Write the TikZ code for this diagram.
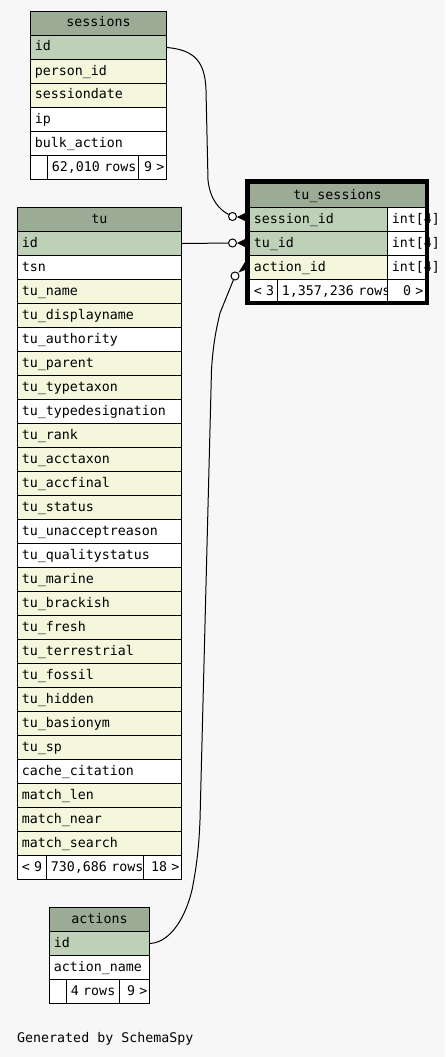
\documentclass[tikz,border=0pt]{standalone}
\usepackage{fontspec}
\newfontfamily\mono{DejaVu Sans Mono}
\definecolor{bgc}{HTML}{F7F7F7}
\definecolor{hdr}{HTML}{9BAB96}
\definecolor{keyc}{HTML}{BED1B8}
\definecolor{yel}{HTML}{F4F7DC}
\tikzset{
  cell/.style={draw, line width=1pt, rectangle, anchor=north west, inner xsep=4.3pt, inner ysep=0pt,
    minimum height=24pt, text height=10pt, text depth=3pt, font=\mono\fontsize{13.3}{16}\selectfont},
  endcirc/.style={circle, draw, fill=white, line width=1pt, minimum size=8pt, inner sep=0pt},
  conn/.style={draw, line width=1pt},
}
\newcommand\cellL[6]{\pgfmathsetmacro\tw{#4-8.6}\node[cell,fill=#5,text width=\tw pt,align=left] (#1) at (#2,#3) {\mbox{#6}};}
\newcommand\cellC[6]{\pgfmathsetmacro\tw{#4-8.6}\node[cell,fill=#5,text width=\tw pt,align=center] (#1) at (#2,#3) {\mbox{#6}};}
\newcommand\cellR[6]{\pgfmathsetmacro\tw{#4-4}\node[cell,fill=#5,inner xsep=2pt,text width=\tw pt,align=right] (#1) at (#2,#3) {\mbox{#6}};}
\begin{document}
\begin{tikzpicture}[x=1pt,y=-1pt]
\path[use as bounding box, fill=bgc] (0,0) rectangle (445,1057);
% sessions
\cellC{ses-h}{30}{11}{136}{hdr}{sessions}
\cellL{ses-id}{30}{35}{136}{keyc}{id}
\cellL{ses-r2}{30}{59}{136}{yel}{person\_id}
\cellL{ses-r3}{30}{83}{136}{yel}{sessiondate}
\cellL{ses-r4}{30}{107}{136}{white}{ip}
\cellL{ses-r5}{30}{131}{136}{white}{bulk\_action}
\cellL{ses-f1}{30}{155}{17}{white}{}
\cellL{ses-f2}{47}{155}{91}{white}{62,010 rows}
\cellR{ses-f3}{138}{155}{28}{white}{9 >}
% tu
\cellC{tu-h}{17}{207}{164}{hdr}{tu}
\cellL{tu-id}{17}{231}{164}{keyc}{id}
\cellL{tu-r2}{17}{255}{164}{white}{tsn}
\cellL{tu-r3}{17}{279}{164}{yel}{tu\_name}
\cellL{tu-r4}{17}{303}{164}{yel}{tu\_displayname}
\cellL{tu-r5}{17}{327}{164}{white}{tu\_authority}
\cellL{tu-r6}{17}{351}{164}{yel}{tu\_parent}
\cellL{tu-r7}{17}{375}{164}{yel}{tu\_typetaxon}
\cellL{tu-r8}{17}{399}{164}{white}{tu\_typedesignation}
\cellL{tu-r9}{17}{423}{164}{yel}{tu\_rank}
\cellL{tu-r10}{17}{447}{164}{yel}{tu\_acctaxon}
\cellL{tu-r11}{17}{471}{164}{yel}{tu\_accfinal}
\cellL{tu-r12}{17}{495}{164}{yel}{tu\_status}
\cellL{tu-r13}{17}{519}{164}{white}{tu\_unacceptreason}
\cellL{tu-r14}{17}{543}{164}{white}{tu\_qualitystatus}
\cellL{tu-r15}{17}{567}{164}{yel}{tu\_marine}
\cellL{tu-r16}{17}{591}{164}{yel}{tu\_brackish}
\cellL{tu-r17}{17}{615}{164}{yel}{tu\_fresh}
\cellL{tu-r18}{17}{639}{164}{yel}{tu\_terrestrial}
\cellL{tu-r19}{17}{663}{164}{yel}{tu\_fossil}
\cellL{tu-r20}{17}{687}{164}{yel}{tu\_hidden}
\cellL{tu-r21}{17}{711}{164}{yel}{tu\_basionym}
\cellL{tu-r22}{17}{735}{164}{yel}{tu\_sp}
\cellL{tu-r23}{17}{759}{164}{white}{cache\_citation}
\cellL{tu-r24}{17}{783}{164}{yel}{match\_len}
\cellL{tu-r25}{17}{807}{164}{yel}{match\_near}
\cellL{tu-r26}{17}{831}{164}{yel}{match\_search}
\cellL{tu-f1}{17}{855}{29}{white}{< 9}
\cellL{tu-f2}{46}{855}{97}{white}{730,686 rows}
\cellR{tu-f3}{143}{855}{38}{white}{18 >}
% actions
\cellC{act-h}{49}{907}{100}{hdr}{actions}
\cellL{act-id}{49}{931}{100}{keyc}{id}
\cellL{act-r2}{49}{955}{100}{white}{action\_name}
\cellL{act-f1}{49}{979}{17}{white}{}
\cellL{act-f2}{66}{979}{53}{white}{4 rows}
\cellR{act-f3}{119}{979}{30}{white}{9 >}
% tu_sessions
\cellC{ts-h}{249}{183}{176}{hdr}{tu\_sessions}
\cellL{ts-r1}{249}{207}{138}{keyc}{session\_id}
\cellL{ts-t1}{387}{207}{38}{white}{int[4]}
\cellL{ts-r2}{249}{231}{138}{keyc}{tu\_id}
\cellL{ts-t2}{387}{231}{38}{white}{int[4]}
\cellL{ts-r3}{249}{255}{138}{yel}{action\_id}
\cellL{ts-t3}{387}{255}{38}{white}{int[4]}
\cellL{ts-f1}{249}{279}{28}{white}{< 3}
\cellL{ts-f2}{277}{279}{110}{white}{1,357,236 rows}
\cellR{ts-f3}{387}{279}{38}{white}{0 >}
\draw[line width=4pt] (247,181) rectangle (427,303);
% connector ends
\node[endcirc] (ce1) at (232.5,216.5) {};
\node[endcirc] (ce2) at (232.5,243) {};
\node[endcirc] (ce3) at (235,276) {};
% connectors
\path[conn] (ses-id.east) .. controls (195,50) and (205,62) .. (206,90) -- (208,180) .. controls (210,200) and (220,210) .. (ce1);
\path[conn] (tu-id.east) -- (ce2);
\path[conn] (act-id.east) .. controls (172,942) and (186,915) .. (192,890) .. controls (197,865) and (199,845) .. (200,820) -- (211.5,370) .. controls (213,345) and (216,330) .. (220,313) -- (ce3);
% crow's feet
\fill (237,217) -- (245,213) -- (245,221) -- cycle;
\fill (237,243) -- (245,239) -- (245,247) -- cycle;
\fill (238.5,272.5) -- (245,262) -- (245,270) -- cycle;
% footer text
\node[font=\mono\fontsize{13.3}{16}\selectfont, anchor=base west, inner sep=0pt] (gen) at (17,1042) {Generated by SchemaSpy};
\end{tikzpicture}
\end{document}
